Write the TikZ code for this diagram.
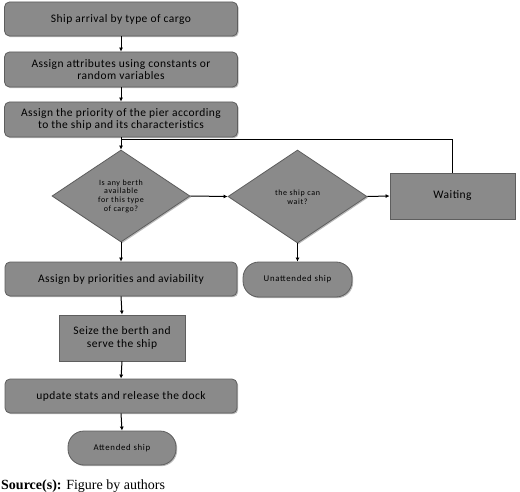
\documentclass[tikz,border=0pt]{standalone}
\usepackage{fontspec}
\setmainfont{Liberation Serif}
\newfontfamily\boxfont[LetterSpace=4]{Carlito}
\newfontfamily\diafont[LetterSpace=8]{Carlito}
\usetikzlibrary{shapes.geometric,arrows.meta,shadows}
\definecolor{boxfill}{HTML}{8A8A8A}
\definecolor{boxline}{HTML}{5E5E5E}
\tikzset{
  base/.style={fill=boxfill, draw=boxline, line width=0.8pt, font=\boxfont\fontsize{11.5}{12.5}\selectfont,
    align=center, inner sep=1pt, drop shadow={shadow xshift=1.2pt, shadow yshift=-1.2pt, fill=black!45, opacity=0.6}},
  rbox/.style={base, rectangle, rounded corners=5pt},
  sbox/.style={base, rectangle},
  stad/.style={base, rectangle, rounded corners=16pt, font=\diafont\fontsize{8.8}{10}\selectfont},
  dia/.style={base, diamond},
  diatext/.style={font=\diafont\fontsize{8}{8.7}\selectfont, align=center, inner sep=0pt},
  arr/.style={-{Latex[length=4pt,width=4pt]}, line width=1pt, black},
  ln/.style={line width=1pt, black}
}
\begin{document}
\begin{tikzpicture}[x=1pt,y=-1pt]
\useasboundingbox (0,0) rectangle (520,492);
\node[rbox, minimum width=233pt, minimum height=34pt] (n1) at (121,19) {Ship arrival by type of cargo};
\node[rbox, minimum width=233pt, minimum height=35pt] (n2) at (121,69.5) {Assign attributes using constants or\\random variables};
\node[rbox, minimum width=233pt, minimum height=35pt] (n3) at (121,119.5) {Assign the priority of the pier according\\to the ship and its characteristics};
\node[dia, minimum width=138pt, minimum height=92pt, inner sep=0pt] (d1) at (121,196) {};
\node[diatext] (d1t) at (121,196) {Is any berth\\available\\for this type\\of cargo?};
\node[dia, minimum width=139pt, minimum height=93pt, inner sep=0pt] (d2) at (297.5,196.5) {};
\node[diatext] (d2t) at (297.5,197) {the ship can\\wait?};
\node[sbox, minimum width=125pt, minimum height=46pt] (w) at (452.5,196) {Waiting};
\node[rbox, minimum width=232pt, minimum height=34pt] (n4) at (121,279) {Assign by priorities and aviability};
\node[stad, minimum width=109pt, minimum height=35pt] (u) at (297.5,279.5) {Unattended ship};
\node[sbox, minimum width=126pt, minimum height=46pt] (n5) at (122,338) {Seize the berth and\\serve the ship};
\node[rbox, minimum width=232pt, minimum height=34pt] (n6) at (121,396) {update stats and release the dock};
\node[stad, minimum width=108pt, minimum height=34pt] (a) at (122,448) {Attended ship};
\node[anchor=base west, inner sep=0pt, font=\fontsize{14}{16}\selectfont] (src) at (1,489) {\textbf{Source(s):} Figure by authors};
\coordinate (top) at (121,140);
\coordinate (wtop) at (452.5,140);
\draw[arr] (n1) -- (n2);
\draw[arr] (n2) -- (n3);
\draw[arr] (n3.south) -- (d1.north);
\draw[ln] (w.north) -- (wtop) -- (top);
\draw[arr] (d1.east) -- (d2.west);
\draw[arr] (d2.east) -- (w.west);
\draw[arr] (d1.south) -- (n4.north);
\draw[arr] (d2.south) -- (u.north);
\draw[arr] (n4.south) -- (n5.north);
\draw[arr] (n5.south) -- (n6.north);
\draw[arr] (n6.south) -- (a.north);
\end{tikzpicture}
\end{document}
